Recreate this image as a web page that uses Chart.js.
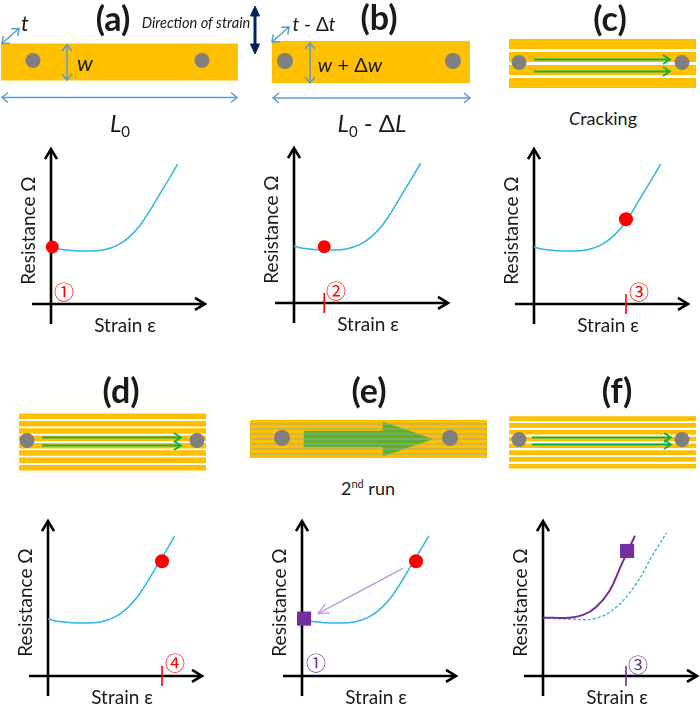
<!DOCTYPE html>
<html>
<head>
<meta charset="utf-8">
<script src="https://cdn.jsdelivr.net/npm/chart.js@4"></script>
<style>
body { margin: 0; background: #fff; }
#fig { position: relative; width: 700px; height: 704px; overflow: hidden; font-family: Lato, "DejaVu Sans", sans-serif; color: #1a1a1a; }
#fig canvas { position: absolute; }
.lbl { position: absolute; transform: translate(-50%, -50%); white-space: nowrap; line-height: 1; }
.panel { font-weight: bold; font-size: 34px; }
.sym { font-style: italic; font-size: 22px; }
.big { font-size: 24px; }
.big sub { font-size: 15px; font-style: normal; vertical-align: -5px; line-height: 0; }
.note { font-size: 18px; }
.note sup { font-size: 11px; line-height: 0; }
.dir { font-style: italic; font-size: 14.6px; }
.num { font-family: "Noto Sans CJK SC", "DejaVu Sans", sans-serif; font-size: 20px; }
</style>
</head>
<body>
<div id="fig"></div>
<script>
// resistance vs strain curves
const strainBase = [0, 0.058, 0.151, 0.296, 0.415, 0.521, 0.613, 0.706, 0.786, 0.865, 0.939, 1.005];
const resistanceBase = [0.41, 0.396, 0.386, 0.381, 0.389, 0.42, 0.476, 0.565, 0.674, 0.795, 0.904, 1.007];
const strainRun2 = [0, 0.21, 0.32, 0.42, 0.53, 0.62, 0.73];
const resistanceRun2 = [0.42, 0.42, 0.44, 0.495, 0.616, 0.797, 1.01];
const strainDashed = [0, 0.21, 0.42, 0.58, 0.74, 0.87, 0.98];
const resistanceDashed = [0.42, 0.41, 0.415, 0.495, 0.664, 0.87, 1.03];

// state marked on each panel a-e (red dot), tick position on strain axis
const dotStrain = [0.01, 0.24, 0.73, 0.905, 0.905];
const dotResistance = [0.41, 0.405, 0.61, 0.826, 0.826];
const tickStrain = [null, 0.24, 0.73, 0.905, null, 0.659];
const squareStrain = [0.016, 0.667];
const squareResistance = [0.413, 0.9];
const returnArrowStrain = [0.80, 0.127];
const returnArrowResistance = [0.775, 0.449];

const axisTitles = ['Strain ε', 'Resistance Ω'];

// pixel size of one unit, and where the axes of each panel cross
const UX = 126, UY = 138;
const panels = [[51, 303], [294, 302], [534, 303], [48, 675], [302, 675], [543, 675]];

const RED = '#ff0000', PURPLE = '#7030a0', BLUE = '#2bb5ea', BLACK = '#000';
const GOLD = '#ffc000', GRAY = '#7f7f7f', STEEL = '#5b9bd5', GREEN = '#0db14b', NAVY = '#002060';

const fig = document.getElementById('fig');
Chart.defaults.font.family = 'Lato, "DejaVu Sans", sans-serif';

function pts(xs, ys) { return xs.map((x, i) => ({ x: x, y: ys[i] })); }

function line(data, color, width, extra) {
  return Object.assign({ data: data, showLine: true, pointRadius: 0, borderColor: color, borderWidth: width,
    tension: 0, clip: false, borderJoinStyle: 'miter' }, extra || {});
}

function marker(x, y, color, style, radius) {
  return { data: [{ x: x, y: y }], pointRadius: radius, pointStyle: style, backgroundColor: color,
    borderColor: color, borderWidth: 0, clip: false };
}

// open arrow head as a polyline, sizes given in pixels
function head(tx, ty, dx, dy, len, half, ux, uy) {
  ux = ux || 1; uy = uy || 1;
  const n = Math.hypot(dx, dy);
  dx /= n; dy /= n;
  return [
    { x: tx + (-dx * len - dy * half) / ux, y: ty + (-dy * len + dx * half) / uy },
    { x: tx, y: ty },
    { x: tx + (-dx * len + dy * half) / ux, y: ty + (-dy * len - dx * half) / uy }
  ];
}

function newCanvas(left, top, w, h) {
  const c = document.createElement('canvas');
  c.width = w; c.height = h;
  c.style.left = left + 'px'; c.style.top = top + 'px';
  c.style.width = w + 'px'; c.style.height = h + 'px';
  fig.appendChild(c);
  return c;
}

function curvePanel(i, datasets) {
  const ax = panels[i][0], ay = panels[i][1];
  const axes = [
    line([{ x: -19 / UX, y: 0 }, { x: 153 / UX, y: 0 }], BLACK, 2.6),
    line(head(154 / UX, 0, 1, 0, 10, 6, UX, UY), BLACK, 2.6),
    line([{ x: 0, y: -20 / UY }, { x: 0, y: 153 / UY }], BLACK, 2.6),
    line(head(0, 154 / UY, 0, 1, 10, 6, UX, UY), BLACK, 2.6)
  ];
  new Chart(newCanvas(ax - 36, ay - 159, 196, 195), {
    type: 'scatter',
    data: { datasets: datasets.concat(axes) },
    options: {
      responsive: false, animation: false, events: [],
      layout: { autoPadding: false, padding: { left: 2, top: 2, right: 2, bottom: 2 } },
      plugins: { legend: { display: false }, tooltip: { enabled: false } },
      scales: {
        x: {
          min: -10 / UX, max: 158 / UX,
          grid: { display: false }, border: { display: false }, ticks: { display: false },
          title: { display: true, text: axisTitles[0], color: '#1a1a1a', font: { size: 19 }, padding: 0 },
          afterFit: s => { s.height = 22; }
        },
        y: {
          min: -11 / UY, max: 157 / UY,
          grid: { display: false }, border: { display: false }, ticks: { display: false },
          title: { display: true, text: axisTitles[1], color: '#1a1a1a', font: { size: 19 }, padding: 0 },
          afterFit: s => { s.width = 24; }
        }
      }
    }
  });
}

function tick(s, color) {
  return line([{ x: s, y: -10 / UY }, { x: s, y: 10 / UY }], color, 1.6);
}

const baseCurve = () => line(pts(strainBase, resistanceBase), BLUE, 1.5, { tension: 0.4 });

curvePanel(0, [marker(dotStrain[0], dotResistance[0], RED, 'circle', 6.5), baseCurve()]);
curvePanel(1, [marker(dotStrain[1], dotResistance[1], RED, 'circle', 6.5), tick(tickStrain[1], RED), baseCurve()]);
curvePanel(2, [marker(dotStrain[2], dotResistance[2], RED, 'circle', 7), tick(tickStrain[2], RED), baseCurve()]);
curvePanel(3, [marker(dotStrain[3], dotResistance[3], RED, 'circle', 7), tick(tickStrain[3], RED), baseCurve()]);
curvePanel(4, [
  marker(squareStrain[0], squareResistance[0], PURPLE, 'rect', 10),
  marker(dotStrain[4], dotResistance[4], RED, 'circle', 7),
  line(pts(returnArrowStrain, returnArrowResistance), '#b79ad6', 1.2),
  line(head(returnArrowStrain[1], returnArrowResistance[1], -85, -45, 11, 5, UX, UY), '#b79ad6', 1.2),
  baseCurve()
]);
curvePanel(5, [
  marker(squareStrain[1], squareResistance[1], PURPLE, 'rect', 10),
  tick(tickStrain[5], PURPLE),
  line(pts(strainRun2, resistanceRun2), PURPLE, 2, { tension: 0.4 }),
  line(pts(strainDashed, resistanceDashed), BLUE, 1.4, { tension: 0.4, borderDash: [3, 2] })
]);

// strip sketches, local units are pixels from the strip's left end and centre line
function stripChart(left, centreY, w, h, datasets) {
  new Chart(newCanvas(left - 8, centreY - h / 2, w, h), {
    type: 'scatter',
    data: { datasets: datasets },
    options: {
      responsive: false, animation: false, events: [],
      layout: { autoPadding: false, padding: 0 },
      plugins: { legend: { display: false }, tooltip: { enabled: false } },
      scales: {
        x: { display: false, min: -8, max: w - 8 },
        y: { display: false, min: -h / 2, max: h / 2, reverse: true }
      }
    }
  });
}

function bands(centres, thick, len, color) {
  return centres.map(c => line([{ x: 0, y: c }, { x: len, y: c }], color || GOLD, thick));
}

function dimArrow(x0, y0, x1, y1) {
  return [
    line([{ x: x0, y: y0 }, { x: x1, y: y1 }], STEEL, 1.5),
    line(head(x1, y1, x1 - x0, y1 - y0, 6, 5), STEEL, 1.5),
    line(head(x0, y0, x0 - x1, y0 - y1, 6, 5), STEEL, 1.5)
  ];
}

function greenArrow(x0, x1, y, halfHead) {
  return [
    line([{ x: x0, y: y }, { x: x1 - 1, y: y }], GREEN, 1.8),
    line(head(x1, y, 1, 0, 7, halfHead), GREEN, 1.8)
  ];
}

function electrodes(x0, x1, y, r) {
  return [marker(x0, y, GRAY, 'circle', r), marker(x1, y, GRAY, 'circle', r)];
}

// (a) with the strain direction arrow
stripChart(1, 61.5, 275, 122, [].concat(
  electrodes(32, 201, -1.5, 7.5),
  dimArrow(66, -17, 66, 18),
  dimArrow(1, 35.5, 236, 35.5),
  dimArrow(1, -18.5, 18, -33.5),
  [
    line([{ x: 254, y: -52 }, { x: 254, y: -13 }], NAVY, 3),
    line([{ x: 254, y: -56 }, { x: 249.5, y: -46 }, { x: 258.5, y: -46 }, { x: 254, y: -56 }], NAVY, 1, { fill: 'shape', backgroundColor: NAVY }),
    line([{ x: 254, y: -8 }, { x: 249.5, y: -18 }, { x: 258.5, y: -18 }, { x: 254, y: -8 }], NAVY, 1, { fill: 'shape', backgroundColor: NAVY })
  ],
  bands([0], 37, 237)
));

// (b)
stripChart(272, 62, 215, 100, [].concat(
  electrodes(13, 181, -1, 8),
  dimArrow(38, -19, 38, 21),
  dimArrow(1, 36, 198, 36),
  dimArrow(0, -20, 17, -35),
  bands([0], 42, 198)
));

// (c)
stripChart(509, 63.5, 205, 60, [].concat(
  electrodes(10, 173, -1.5, 7.5),
  greenArrow(25, 161, -4.5, 4.5),
  greenArrow(25, 161, 7.5, 4.5),
  bands([-20, -7, 6, 19], 10, 187)
));

// (d)
stripChart(19, 441.5, 205, 70, [].concat(
  electrodes(8, 178, -1.5, 7.5),
  greenArrow(23, 162, -4.5, 4.5),
  greenArrow(23, 162, 3.5, 4.5),
  bands([-25.7, -18.3, -11, -3.7, 3.7, 11, 18.3, 25.7], 5.4, 187)
));

// (e) second run, cracks show as thin grey lines and the current as a big arrow
const crackRows = [-15, -10, -5, 0, 5, 10, 15];
stripChart(250, 439, 255, 60, [].concat(
  electrodes(32, 200, -1, 8),
  crackRows.map(c => line([{ x: 0, y: c }, { x: 237, y: c }], '#a3a88f', 1.1)),
  [line([{ x: 54, y: -8 }, { x: 133, y: -8 }, { x: 133, y: -17 }, { x: 183, y: 0 }, { x: 133, y: 17 }, { x: 133, y: 8 }, { x: 54, y: 8 }, { x: 54, y: -8 }],
    '#5cb131', 0.5, { fill: 'shape', backgroundColor: '#5cb131' })],
  bands([0], 38, 237)
));

// (f)
stripChart(509, 440.5, 205, 70, [].concat(
  electrodes(10, 173, -1.5, 7.5),
  greenArrow(23, 162, -3.5, 4.5),
  greenArrow(23, 162, 3.5, 4.5),
  bands([-22.4, -15.6, -8.8, -2, 4.8, 11.6, 18.4, 25.2], 4.6, 187)
));

// text
const labels = [
  ['(a)', 113, 18, 'panel'], ['(b)', 379, 17, 'panel'], ['(c)', 610, 18, 'panel'],
  ['(d)', 121, 390, 'panel'], ['(e)', 369, 390, 'panel'], ['(f)', 617, 390, 'panel'],
  ['t', 25, 23, 'sym'], ['w', 85, 63, 'sym'],
  ['<i>L</i><sub>0</sub>', 120, 123, 'big'],
  ['Direction of strain', 196, 23, 'dir'],
  ['<i>t</i> - Δ<i>t</i>', 314, 23, 'big', 19],
  ['<i>w</i> + Δ<i>w</i>', 350, 64, 'big', 20],
  ['<i>L</i><sub>0</sub> - Δ<i>L</i>', 372, 123, 'big'],
  ['<i>C</i>racking', 603, 118, 'note'],
  ['2<sup>nd</sup> run', 368, 488, 'note']
];
const circled = [
  ['①', 64, 292, RED], ['②', 336, 291, RED], ['③', 639, 292, RED],
  ['④', 175, 663, RED], ['①', 316, 663, PURPLE], ['③', 638, 665, PURPLE]
];

labels.forEach(l => {
  const s = document.createElement('span');
  s.className = 'lbl ' + l[3];
  s.innerHTML = l[0];
  s.style.left = l[1] + 'px'; s.style.top = l[2] + 'px';
  if (l[4]) s.style.fontSize = l[4] + 'px';
  fig.appendChild(s);
});
circled.forEach(l => {
  const s = document.createElement('span');
  s.className = 'lbl num';
  s.textContent = l[0];
  s.style.left = l[1] + 'px'; s.style.top = l[2] + 'px'; s.style.color = l[3];
  fig.appendChild(s);
});
</script>
</body>
</html>
